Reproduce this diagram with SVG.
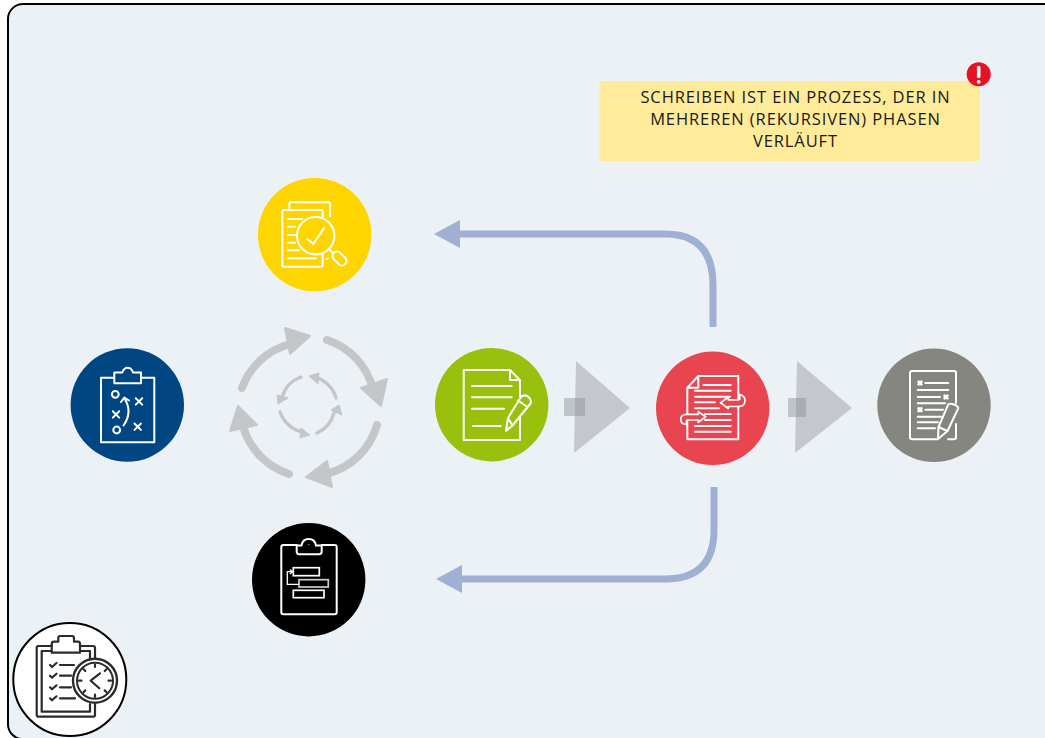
<svg xmlns="http://www.w3.org/2000/svg" width="1045" height="738" viewBox="0 0 1045 738">
<style>
.i{fill:none;stroke:#fff;stroke-width:2;stroke-linecap:round;stroke-linejoin:round}
.k{fill:none;stroke:#2b2b2b;stroke-width:2.2;stroke-linecap:round;stroke-linejoin:round}
.cy{fill:none;stroke:#c3c7ca;stroke-linecap:round}
.ch{fill:#c3c7ca;stroke:#c3c7ca;stroke-linejoin:round}
.tri{fill:#c4c8cd}
.sq{fill:#8a8f93;opacity:.45}
.t{font-family:"Open Sans","Noto Sans",sans-serif;font-size:16.5px;letter-spacing:.9px;fill:#1a1a1a;text-anchor:middle}
</style>
<defs>
<marker id="ah" markerUnits="userSpaceOnUse" markerWidth="28" markerHeight="30" refX="0" refY="15" orient="auto"><path d="M0 1L26 15L0 29Z" fill="#9fb0d2"/></marker>
</defs>
<rect x="8" y="4" width="1120" height="735.2" rx="15" fill="#ecf1f6" stroke="#000" stroke-width="2"/>

<g id="connectors">
<path d="M713 327V285Q713 234 665 234H460" fill="none" stroke="#9fb0d2" stroke-width="7" marker-end="url(#ah)"/>
<path d="M714 487V530Q714 579 665 579H462" fill="none" stroke="#9fb0d2" stroke-width="7" marker-end="url(#ah)"/>
<g id="arrow-1"><path class="tri" d="M576 361L630 408L574 453Z"/><rect class="sq" x="564" y="398" width="21" height="18"/></g>
<g id="arrow-2"><path class="tri" d="M797 361L852 408L795 453Z"/><rect class="sq" x="788" y="398" width="18" height="19"/></g>
</g>

<g id="cycle">
<path class="cy" stroke-width="8" d="M242 388A70 70 0 0 1 290 344"/>
<path class="ch" stroke-width="2" d="M285 328L310 336L290 354Z"/>
<path class="cy" stroke-width="8" d="M327 340A70 70 0 0 1 373 389"/>
<path class="ch" stroke-width="2" d="M361 388L387 379L381 406Z"/>
<path class="cy" stroke-width="8" d="M377 425A70 70 0 0 1 326 474"/>
<path class="ch" stroke-width="2" d="M327 461L332 487L306 477Z"/>
<path class="cy" stroke-width="8" d="M289 474A70 70 0 0 1 243 426"/>
<path class="ch" stroke-width="2" d="M238 406L257 425L230 431Z"/>
<path class="cy" stroke-width="3.4" d="M301 377A31 31 0 0 0 282 397"/>
<path class="ch" stroke-width="1" d="M278 404L277 395L288 398Z"/>
<path class="cy" stroke-width="3.4" d="M336 398A31 31 0 0 0 315 377"/>
<path class="ch" stroke-width="1" d="M309 376L319 373L318 384Z"/>
<path class="cy" stroke-width="3.4" d="M317 433A31 31 0 0 0 334 413"/>
<path class="ch" stroke-width="1" d="M339 405L342 415L331 410Z"/>
<path class="cy" stroke-width="3.4" d="M280 412A31 31 0 0 0 302 432"/>
<path class="ch" stroke-width="1" d="M310 435L300 438L301 428Z"/>
</g>

<g id="node-plan">
<circle cx="127.3" cy="405" r="56.7" fill="#004683"/>
<path class="i" d="M114.3 377.7H101V442.3H154.3V377.7H141M114.3 383.3H141V372.5H133Q131.5 367.7 127.7 367.7Q123.8 367.7 122.3 372.5H114.3Z"/>
<circle class="i" cx="115.3" cy="394.3" r="3.4"/>
<circle class="i" cx="116.7" cy="430" r="3.4"/>
<path class="i" stroke-width="2.4" d="M135.8 398.2l6.4 6.4M142.2 398.2l-6.4 6.4M112.8 411.2l6.4 6.4M119.2 411.2l-6.4 6.4M134.5 423.5l6.4 6.4M140.9 423.5l-6.4 6.4"/>
<path class="i" d="M123.5 425.5Q133 412 124.5 398.5M121 402L124.3 397.5L129 400.5"/>
</g>

<g id="node-review">
<circle cx="314.7" cy="234.7" r="56.7" fill="#ffd500"/>
<path class="i" d="M289.3 209V204Q289.3 202.3 291 202.3H328.5Q330 202.3 330 204V216"/>
<rect class="i" x="282.3" y="210" width="40.4" height="56.7" rx="1.5"/>
<path class="i" d="M288.3 219H302M288.3 226.7H295M288.3 235H295M288.3 242.7H295M288.3 250.3H299M288.3 258.3H316"/>
<circle cx="315.7" cy="235.7" r="18.7" fill="#ffd500" stroke="#fff" stroke-width="2"/>
<path class="i" d="M307.3 239L313.3 244L324 228.3M329.5 249.5L333 253"/>
<rect class="i" x="-4.5" y="-8" width="9" height="16" rx="4.5" transform="translate(339.5 258.5) rotate(-45)"/>
<path class="i" d="M326.5 259H327.5"/>
</g>

<g id="node-draft">
<circle cx="491.7" cy="404.7" r="56.7" fill="#99c00d"/>
<path class="i" d="M520 396.5V380L510 370H463.7V440H520V418M510 370V380H520"/>
<path class="i" d="M472 386H511.7M472 397.3H511.7M472 408.7H504M473 426H500.7"/>
<path class="i" d="M506 431L508 418L521 397Q524 394 528 396.5Q532 399.5 530.5 403.5L512.5 425.5ZM508 418L512.5 425.5M518 400.5L526 406"/>
</g>

<g id="node-revise">
<circle cx="712.7" cy="408.3" r="56.7" fill="#e94550"/>
<path class="i" stroke-width="1.7" d="M698.3 376H738.3V439.3H687.3V387.7ZM698.3 376V387.7H687.3"/>
<path class="i" stroke-width="1.7" d="M703.3 385H730.7M695 390.7H730.7M695 396.7H730M695 402.3H715M695 408.3H719M705 414H730.7M705 420H730.7M695 426H730.7M695 431.7H730.7"/>
<path d="M720.5 402.7L728.3 397.3V399.8H738Q741 399.5 739.5 396.5V394.6Q745 395.5 745 400.5Q745 406.5 738.5 406.5H728.3V408.5Z" fill="#e94550" stroke="#fff" stroke-width="1.7" stroke-linejoin="round"/>
<path d="M705.7 416.7L698.3 411.7V414.3H687Q680.7 414.5 680.7 419.2Q680.7 424.3 686.5 424.3V420.5Q686.5 420 688 420H698.3V422.3Z" fill="#e94550" stroke="#fff" stroke-width="1.7" stroke-linejoin="round"/>
</g>

<g id="node-final">
<circle cx="934" cy="405.3" r="56.7" fill="#868680"/>
<path class="i" d="M938 439.3H912Q910 439.3 910 437V373Q910 371 912 371H954Q956 371 956 373V403M956 424V437Q956 439.3 954 439.3H948"/>
<path class="i" d="M925.3 383H948.3M917.7 390H948.3M917.7 397H940M917.7 403.3H945M925.3 409.7H943M917.7 416.7H941M917.7 422.3H938M917.7 428.3H935"/>
<path d="M917.8 380.8l4.4 4.4M922.2 380.8l-4.4 4.4M943.8 394.8l4.4 4.4M948.2 394.8l-4.4 4.4M917.8 407.5l4.4 4.4M922.2 407.5l-4.4 4.4" stroke="#fff" stroke-width="2.6" fill="none"/>
<path d="M938 439L938.5 427L948.3 404.3Q950 403 954 404.5Q958.5 406.5 958.3 408.3L947.5 431Z" fill="#868680" stroke="#fff" stroke-width="2" stroke-linejoin="round"/>
<path class="i" d="M938.5 427L947.5 431"/>
</g>

<g id="node-plan-2">
<circle cx="308.7" cy="579.7" r="56.7" fill="#000"/>
<path class="i" d="M296.7 545H283.3Q281.3 545 281.3 547V612.3Q281.3 614.3 283.3 614.3H334.7Q336.7 614.3 336.7 612.3V547Q336.7 545 334.7 545H321.7"/>
<path class="i" d="M296.7 545.5V551.5Q296.7 554.3 299.5 554.3H319Q321.7 554.3 321.7 551.5V545.5H316Q315 539 308.7 539Q302.5 539 301.5 545.5Z"/>
<path d="M308.7 544.5v.5" stroke="#fff" stroke-width="1.6"/>
<rect x="293.3" y="567.7" width="26" height="8" fill="none" stroke="#fff" stroke-width="1.7"/>
<rect x="299" y="579.7" width="29.3" height="7.3" fill="none" stroke="#ccc" stroke-width="1.7"/>
<rect x="293.3" y="590.3" width="30.7" height="7.4" fill="none" stroke="#fff" stroke-width="1.7"/>
<path d="M299 584.3H287.3V571.7H292M290 569.5L292.5 571.7L290 574" fill="none" stroke="#fff" stroke-width="1.3"/>
</g>

<g id="node-note">
<rect x="599.5" y="81" width="380" height="80" fill="#ffeb99"/>
<text class="t" x="795.5" y="103"><tspan x="795.5">SCHREIBEN IST EIN PROZESS, DER IN</tspan><tspan x="795.5" y="124.5">MEHREREN (REKURSIVEN) PHASEN</tspan><tspan x="795.5" y="146.5">VERLÄUFT</tspan></text>
<circle cx="978.7" cy="74.3" r="12" fill="#e81123"/>
<path d="M978.7 67.5V76.5" stroke="#fff" stroke-width="3.6" stroke-linecap="round"/>
<circle cx="978.7" cy="81.8" r="1.9" fill="#fff"/>
</g>

<g id="node-time">
<circle cx="69.8" cy="679.5" r="56.5" fill="#fff" stroke="#000" stroke-width="2"/>
<path class="k" d="M51.7 646H38.5Q36.7 646 36.7 648V714.7Q36.7 716.7 38.5 716.7H93Q95 716.7 95 714.7V704M80 646H93Q95 646 95 648V659"/>
<path class="k" d="M51.7 651H41.7V711.7H90V704M80 651H90V659"/>
<path class="k" d="M51.7 652.7V644Q51.7 641.7 54 641.7H58.3V638Q58.3 636 60.3 636H72Q74 636 74 638V641.7H78Q80 641.7 80 644V652.7Z"/>
<path class="k" d="M50 665l2 2l4.5-4M50 675.7l2 2l4.5-4M50 687.3l2 2l4.5-4M50 698.3l2 2l4.5-4"/>
<path class="k" d="M60 665H74M60 675.7H71M60 687.3H71M60 698.3H75"/>
<circle cx="95" cy="680.7" r="22" fill="#fff" stroke="#2b2b2b" stroke-width="2.4"/>
<circle cx="95" cy="680.7" r="18" fill="#fff" stroke="#2b2b2b" stroke-width="2"/>
<path class="k" d="M100 673.3L90.7 680.7L99.3 688.3"/>
<path class="k" d="M95 664.5v2.5M95 694.5v2.5M79 680.7h2.5M108.5 680.7h2.5M83.5 669.2l1.8 1.8M104.7 690.4l1.8 1.8M106.5 669.2l-1.8 1.8M85.3 690.4l-1.8 1.8"/>
</g>
</svg>
